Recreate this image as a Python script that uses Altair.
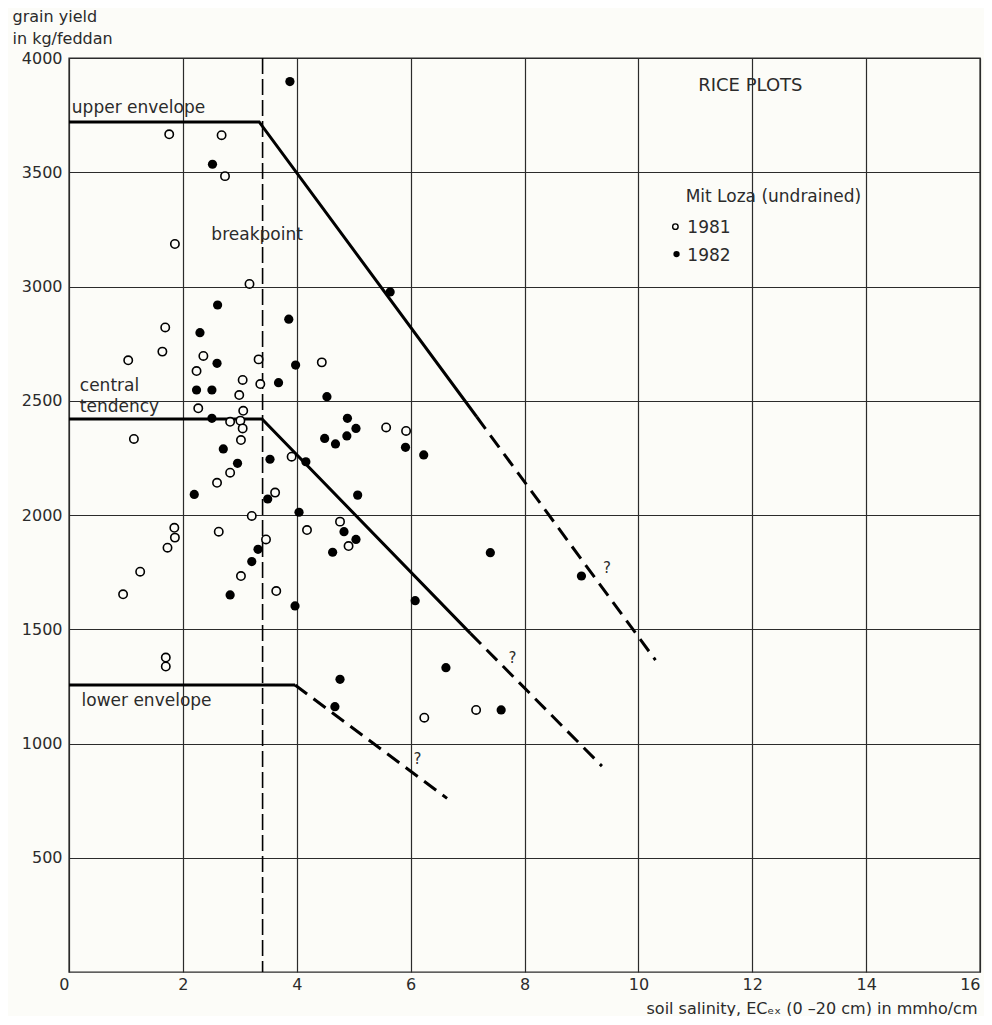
import altair as alt
import pandas as pd

# ---- data ----
x1981 = [1.76, 2.68, 2.74, 1.86, 3.17, 1.69, 1.04, 1.64, 2.36, 3.33, 4.44, 2.24, 3.05, 3.36, 2.99,
         2.27, 3.06, 2.83, 3.01, 3.05, 3.02, 1.14, 3.91, 2.83, 2.60, 3.62, 3.21, 2.63, 1.85, 1.86,
         1.73, 3.46, 4.18, 4.76, 4.91, 1.25, 3.02, 0.95, 3.64, 1.70, 1.70, 5.57, 5.92, 6.24, 7.15]
y1981 = [3666, 3662, 3483, 3186, 3011, 2821, 2677, 2715, 2696, 2681, 2668, 2630, 2591, 2573, 2525,
         2467, 2456, 2408, 2413, 2379, 2328, 2333, 2255, 2185, 2141, 2098, 1996, 1927, 1944, 1901,
         1857, 1893, 1934, 1971, 1864, 1752, 1733, 1653, 1667, 1376, 1337, 2383, 2368, 1113, 1147]

x1982 = [3.88, 2.52, 2.61, 3.86, 2.30, 5.64, 2.60, 3.98, 3.68, 2.24, 2.51, 4.53, 2.51, 4.89, 5.04,
         4.88, 4.49, 4.68, 2.71, 3.53, 4.16, 2.96, 2.20, 5.07, 3.49, 4.04, 3.32, 3.21, 4.83, 5.04,
         4.63, 2.83, 3.97, 4.76, 4.67, 5.91, 6.23, 7.40, 9.00, 6.08, 6.62, 7.59]
y1982 = [3897, 3535, 2919, 2857, 2798, 2976, 2664, 2656, 2579, 2547, 2547, 2518, 2423, 2423, 2379,
         2346, 2335, 2311, 2289, 2244, 2233, 2226, 2090, 2087, 2070, 2012, 1850, 1796, 1927, 1893,
         1837, 1650, 1602, 1281, 1161, 2296, 2263, 1835, 1733, 1625, 1332, 1147]

# envelope lines (vertices)
upper_solid_x = [0, 3.34, 7.16]
upper_solid_y = [3720, 3720, 2430]
upper_dash_x = [7.16, 10.3]
upper_dash_y = [2430, 1365]
central_solid_x = [0, 3.39, 7.05]
central_solid_y = [2420, 2420, 1482]
central_dash_x = [7.05, 9.36]
central_dash_y = [1482, 901]
lower_solid_x = [0, 3.97]
lower_solid_y = [1256, 1256]
lower_dash_x = [3.97, 6.64]
lower_dash_y = [1256, 760]
breakpoint_x = [3.4]

x_ticks = list(range(0, 17, 2))
y_ticks = list(range(500, 4001, 500))

# annotation labels
ann_text = ["upper envelope", "breakpoint", "central", "tendency", "lower envelope",
            "Mit Loza (undrained)", "1981", "1982"]
ann_x = [0.05, 2.50, 0.19, 0.19, 0.22, 10.83, 10.86, 10.86]
ann_y = [3759, 3203, 2544, 2452, 1164, 3371, 3235, 3113]
q_x = [9.45, 7.79, 6.12]
q_y = [1767, 1373, 931]

FONT = "DejaVu Sans"
INK = "#2b2b2b"
BG = "#fcfcf8"

def seg_df(pairs):
    rows = []
    for name, xs, ys in pairs:
        for i, (a, b) in enumerate(zip(xs, ys)):
            rows.append({"seg": name, "o": i, "x": a, "y": b})
    return pd.DataFrame(rows)

solid_df = seg_df([("upper", upper_solid_x, upper_solid_y),
                   ("central", central_solid_x, central_solid_y),
                   ("lower", lower_solid_x, lower_solid_y)])
dash_df = seg_df([("upper", upper_dash_x, upper_dash_y),
                  ("central", central_dash_x, central_dash_y),
                  ("lower", lower_dash_x, lower_dash_y)])

xenc = alt.X("x:Q",
             scale=alt.Scale(domain=[0, 16], nice=False, zero=True),
             axis=alt.Axis(values=x_ticks, grid=True, gridColor=INK, gridWidth=1.2,
                           ticks=False, domain=False, labelFont=FONT, labelFontSize=16,
                           labelColor=INK, labelPadding=4, format="d",
                           labelAlign={"expr": "datum.value == 0 || datum.value == 16 ? 'right' : 'center'"},
                           title="soil salinity, ECₑₓ (0 –20 cm) in mmho/cm",
                           titleFont=FONT, titleFontSize=16, titleFontWeight="normal",
                           titleColor=INK, titleAnchor="end", titleAlign="right",
                           titleX=908, titleY=41, titleBaseline="alphabetic"))
yenc = alt.Y("y:Q",
             scale=alt.Scale(domain=[0, 4000], nice=False, zero=True),
             axis=alt.Axis(values=y_ticks, grid=True, gridColor=INK, gridWidth=1.2,
                           ticks=False, domain=False, labelFont=FONT, labelFontSize=16,
                           labelColor=INK, labelPadding=7, format="d",
                           title=["grain yield", "in kg/feddan"], titleAngle=0,
                           titleFont=FONT, titleFontSize=16, titleFontWeight="normal",
                           titleColor=INK, titleAlign="left", titleX=-57, titleY=-50,
                           titleBaseline="top", titleLineHeight=22))

pts81 = alt.Chart(pd.DataFrame({"x": x1981, "y": y1981})).mark_point(
    shape="circle", filled=True, fill=BG, fillOpacity=1, stroke="black",
    strokeWidth=1.6, size=70, opacity=1).encode(x=xenc, y=yenc)
pts82 = alt.Chart(pd.DataFrame({"x": x1982, "y": y1982})).mark_circle(
    color="black", size=85, opacity=1).encode(x=xenc, y=yenc)

solid = alt.Chart(solid_df).mark_line(color="black", strokeWidth=3).encode(
    x=xenc, y=yenc, detail="seg:N", order="o:Q")
dashed = alt.Chart(dash_df).mark_line(color="black", strokeWidth=3,
                                      strokeDash=[15, 8]).encode(
    x=xenc, y=yenc, detail="seg:N", order="o:Q")

bp = alt.Chart(pd.DataFrame({"x": breakpoint_x})).mark_rule(
    color="black", strokeWidth=1.6, strokeDash=[16, 5]).encode(x=xenc)

ann = alt.Chart(pd.DataFrame({"x": ann_x, "y": ann_y, "t": ann_text})).mark_text(
    align="left", baseline="alphabetic", font=FONT, fontSize=17, color=INK).encode(
    x=xenc, y=yenc, text="t:N")

title_txt = alt.Chart(pd.DataFrame({"x": [11.05], "y": [3857], "t": ["RICE PLOTS"]})).mark_text(
    align="left", baseline="alphabetic", font=FONT, fontSize=18, color=INK).encode(
    x=xenc, y=yenc, text="t:N")

qs = alt.Chart(pd.DataFrame({"x": q_x, "y": q_y, "t": ["?"] * 3})).mark_text(
    align="center", baseline="middle", font=FONT, fontSize=15, color=INK).encode(
    x=xenc, y=yenc, text="t:N")

leg81 = alt.Chart(pd.DataFrame({"x": [10.65], "y": [3262]})).mark_point(
    shape="circle", filled=True, fill=BG, stroke="black", strokeWidth=1.4, size=30,
    opacity=1).encode(x=xenc, y=yenc)
leg82 = alt.Chart(pd.DataFrame({"x": [10.67], "y": [3142]})).mark_circle(
    color="black", size=40, opacity=1).encode(x=xenc, y=yenc)

chart = alt.layer(bp, solid, dashed, pts81, pts82, ann, title_txt, qs, leg81, leg82).properties(
    width=911, height=914,
    autosize=alt.AutoSizeParams(type="none"),
    padding={"left": 61, "top": 50, "right": 4, "bottom": 44},
    background=BG,
).configure_view(stroke=INK, strokeWidth=1.4)

chart.save("out.html", embed_options={"renderer": "svg", "actions": False})
